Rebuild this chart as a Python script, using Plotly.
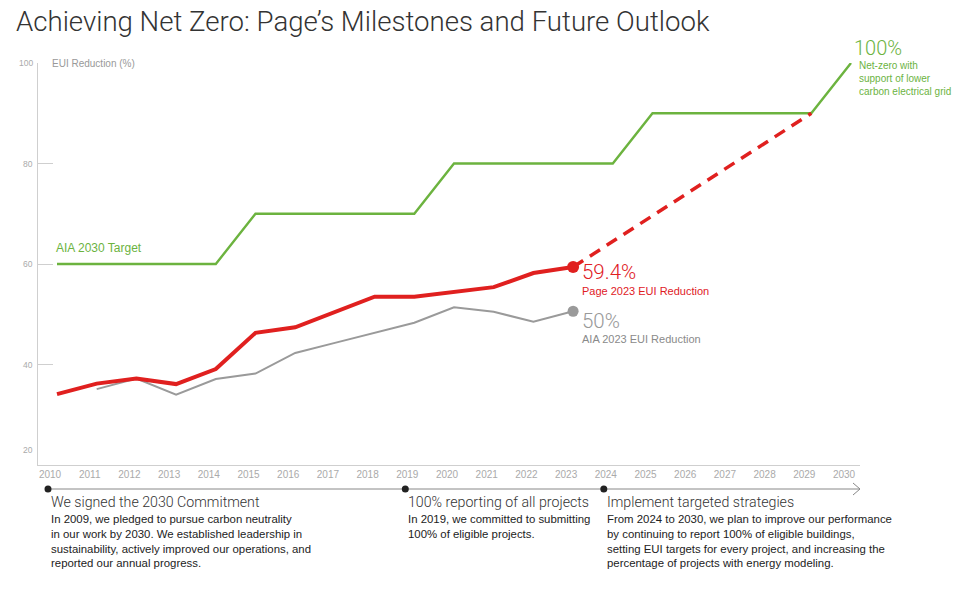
import plotly.graph_objects as go

# ---------------- data ----------------
years = list(range(2010, 2031))
target_years = [2010, 2014, 2015, 2019, 2020, 2024, 2025, 2029, 2030]
target_vals = [60, 60, 70, 70, 80, 80, 90, 90, 100]

page_years = list(range(2010, 2024))
page_vals = [34.1, 36.2, 37.2, 36.1, 39.1, 46.3, 47.4, 50.5, 53.5, 53.5, 54.4, 55.4, 58.2, 59.4]

aia_years = list(range(2011, 2024))
aia_vals = [35.1, 37.2, 34.0, 37.1, 38.2, 42.3, 44.3, 46.3, 48.3, 51.4, 50.5, 48.5, 50.6]

proj_years = [2023, 2029]
proj_vals = [59.4, 90]

y_ticks = [20, 40, 60, 80, 100]
x_tick_labels = [str(y) for y in years]

events_years = [2010, 2019, 2024]
events_titles = ["We signed the 2030 Commitment",
                 "100% reporting of all projects",
                 "Implement targeted strategies"]
events_bodies = [
    "In 2009, we pledged to pursue carbon neutrality<br>in our work by 2030. We established leadership in<br>sustainability, actively improved our operations, and<br>reported our annual progress.",
    "In 2019, we committed to submitting<br>100% of eligible projects.",
    "From 2024 to 2030, we plan to improve our performance<br>by continuing to report 100% of eligible buildings,<br>setting EUI targets for every project, and increasing the<br>percentage of projects with energy modeling.",
]

# ---------------- style ----------------
RED = "#e0201f"
GREEN = "#6cb33f"
GRAY = "#9a9a9a"
AXIS = "#cfcfcf"
BODY = "Liberation Sans, Arial, sans-serif"
LIGHT = "Roboto, Lato, sans-serif"

W, H = 977, 596
L, R, T, B = 38, 860, 63, 465
XR = [2010 - 19 / 39.7, 2030 + 9 / 39.7]
YR = [20, 100]


def px(x):
    return (x - L) / (R - L)


def py(y):
    return (B - y) / (B - T)


def year_px(yr):
    return L + (yr - XR[0]) / (XR[1] - XR[0]) * (R - L)


fig = go.Figure()

fig.add_trace(go.Scatter(x=target_years, y=target_vals, mode="lines",
                         line=dict(color=GREEN, width=2.4), hoverinfo="skip"))
fig.add_trace(go.Scatter(x=aia_years, y=aia_vals, mode="lines",
                         line=dict(color=GRAY, width=2), hoverinfo="skip"))
fig.add_trace(go.Scatter(x=[aia_years[-1]], y=[aia_vals[-1]], mode="markers",
                         marker=dict(color=GRAY, size=11), hoverinfo="skip"))
fig.add_trace(go.Scatter(x=proj_years, y=proj_vals, mode="lines",
                         line=dict(color=RED, width=3.5, dash="12px,8px"), hoverinfo="skip"))
fig.add_trace(go.Scatter(x=page_years, y=page_vals, mode="lines",
                         line=dict(color=RED, width=4), hoverinfo="skip"))
fig.add_trace(go.Scatter(x=[page_years[-1]], y=[page_vals[-1]], mode="markers",
                         marker=dict(color=RED, size=12), hoverinfo="skip"))

ann = []
# title
ann.append(dict(text="Achieving Net Zero: Page\u2019s Milestones and Future Outlook",
                x=px(14), y=py(22), xref="paper", yref="paper", xanchor="left", yanchor="middle",
                showarrow=False, font=dict(family=LIGHT, size=27.6, color="#333333", weight=300)))
# y axis title
ann.append(dict(text="EUI Reduction (%)", x=px(50), y=py(63), xref="paper", yref="paper",
                xanchor="left", yanchor="middle", showarrow=False,
                font=dict(family=BODY, size=10, color="#999999")))
# y tick labels
for v in y_ticks:
    ann.append(dict(text=str(v), x=0, y=v, xref="paper", yref="y", xanchor="right",
                    yanchor="middle", xshift=-3, yshift=15 if v == YR[0] else 0,
                    showarrow=False, font=dict(family=BODY, size=8.5, color="#aaaaaa")))

# series labels
ann.append(dict(text="AIA 2030 Target", x=2010, y=60, xanchor="left", yanchor="bottom",
                xshift=-3, yshift=7, showarrow=False, font=dict(family=BODY, size=12, color=GREEN)))
ann.append(dict(text="59.4%", x=2023, y=59.4, xanchor="left", yanchor="middle", xshift=7,
                yshift=-5, showarrow=False, font=dict(family=LIGHT, size=20.5, color=RED, weight=300)))
ann.append(dict(text="Page 2023 EUI Reduction", x=2023, y=59.4, xanchor="left", yanchor="middle",
                xshift=7, yshift=-24, showarrow=False, font=dict(family=BODY, size=11, color=RED)))
ann.append(dict(text="50%", x=2023, y=50.6, xanchor="left", yanchor="middle", xshift=7,
                yshift=-10, showarrow=False, font=dict(family=LIGHT, size=20.5, color="#999999", weight=300)))
ann.append(dict(text="AIA 2023 EUI Reduction", x=2023, y=50.6, xanchor="left", yanchor="middle",
                xshift=7, yshift=-28, showarrow=False, font=dict(family=BODY, size=11, color="#8a8a8a")))
ann.append(dict(text="100%", x=2030, y=100, xanchor="left", yanchor="middle", xshift=1,
                yshift=15, showarrow=False, font=dict(family=LIGHT, size=20, color=GREEN, weight=300)))
ann.append(dict(text="Net-zero with<br>support of lower<br>carbon electrical grid", x=2030, y=100,
                xanchor="left", yanchor="top", xshift=6, yshift=5, align="left", showarrow=False,
                font=dict(family=BODY, size=10, color=GREEN)))

shapes = []
TL_Y = 489
shapes.append(dict(type="line", xref="paper", yref="paper", x0=px(50), x1=px(860),
                   y0=py(TL_Y), y1=py(TL_Y), line=dict(color="#888888", width=1)))
shapes.append(dict(type="path", xref="paper", yref="paper",
                   path=f"M {px(853)},{py(TL_Y-6)} L {px(860)},{py(TL_Y)} L {px(853)},{py(TL_Y+6)}",
                   line=dict(color="#888888", width=1)))
for yr, ttl, body in zip(events_years, events_titles, events_bodies):
    cx = year_px(yr) - 9
    shapes.append(dict(type="circle", xref="paper", yref="paper",
                       x0=px(cx - 3.5), x1=px(cx + 3.5), y0=py(TL_Y + 3.5), y1=py(TL_Y - 3.5),
                       fillcolor="#222222", line=dict(width=0)))
    ann.append(dict(text=ttl, x=px(cx + 1), y=py(502), xref="paper", yref="paper",
                    xanchor="left", yanchor="middle", showarrow=False,
                    font=dict(family=LIGHT, size=14.2, color="#333333", weight=300)))
    ann.append(dict(text=body, x=px(cx + 1), y=py(511), xref="paper", yref="paper",
                    xanchor="left", yanchor="top", align="left", showarrow=False,
                    font=dict(family=BODY, size=11.4, color="#222222")))

fig.update_layout(
    width=W, height=H,
    margin=dict(l=L, r=W - R, t=T, b=H - B, pad=0),
    paper_bgcolor="white", plot_bgcolor="white",
    showlegend=False,
    annotations=ann, shapes=shapes,
    xaxis=dict(range=XR, tickvals=years, ticktext=x_tick_labels, showgrid=False, zeroline=False,
               showline=True, linecolor=AXIS, linewidth=1, ticks="", ticklabelshift=-7,
               tickfont=dict(family=BODY, size=10, color="#aaaaaa")),
    yaxis=dict(range=YR, tickvals=[40, 60, 80], showticklabels=False, showgrid=False,
               zeroline=False, showline=True, linecolor=AXIS, linewidth=1,
               ticks="inside", ticklen=15, tickcolor=AXIS),
)

fig.write_html("out.html")
